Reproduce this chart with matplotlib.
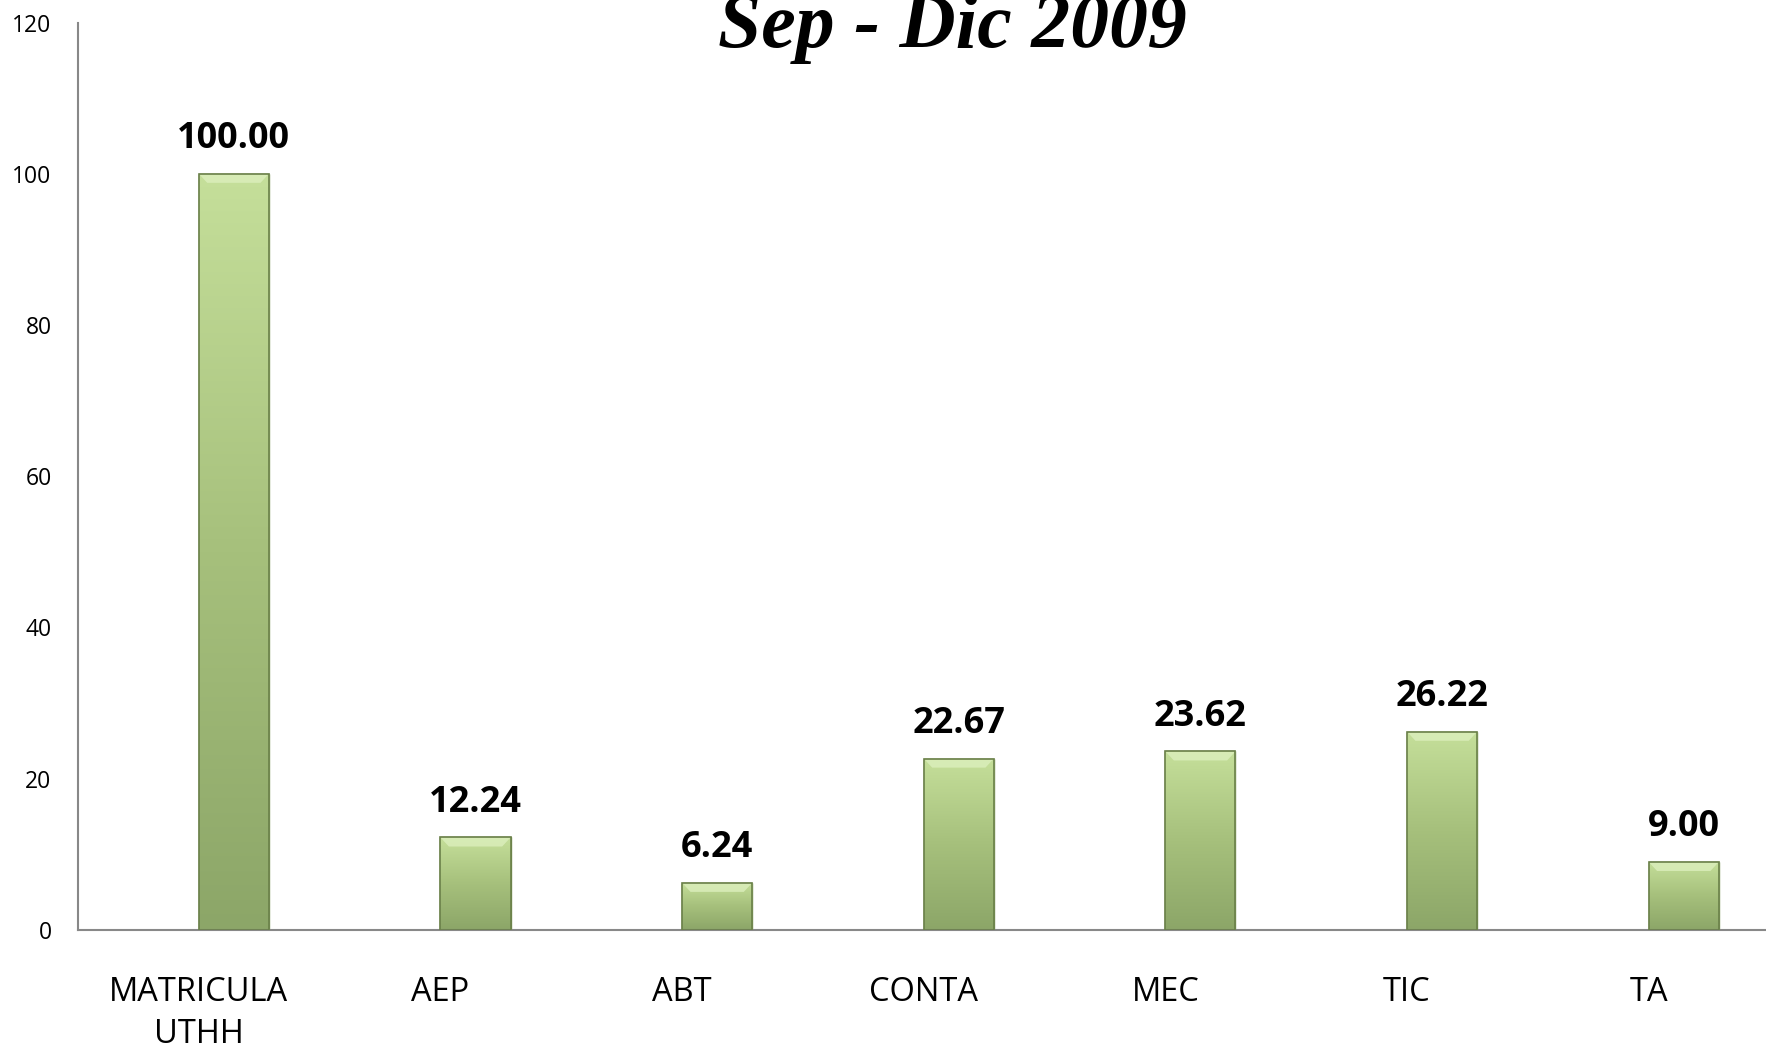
import matplotlib
matplotlib.use("Agg")
import matplotlib.pyplot as plt
import numpy as np
from matplotlib.colors import LinearSegmentedColormap

categories = ["MATRICULA\nUTHH", "AEP", "ABT", "CONTA", "MEC", "TIC", "TA"]
values = [100.00, 12.24, 6.24, 22.67, 23.62, 26.22, 9.00]
yticks = [0, 20, 40, 60, 80, 100, 120]
title = "Sep - Dic 2009"

W, H = 1766, 1051
fig = plt.figure(figsize=(W / 100, H / 100), dpi=100)
ax = fig.add_axes([78 / W, 1 - 930 / H, 1 - 78 / W + 0.002, (930 - 22.5) / H])

x = np.arange(len(categories))
bw = 0.29
bars = ax.bar(x, values, width=bw, align="edge", color="#a9c47f",
              edgecolor="#7d9458", linewidth=1.0, zorder=2)

cmap = LinearSegmentedColormap.from_list("g", ["#8ca668", "#a6c07c", "#c5df9a"])
grad = np.linspace(0, 1, 256).reshape(-1, 1)
for b in bars:
    x0, y0 = b.get_x(), b.get_y()
    w, h = b.get_width(), b.get_height()
    im = ax.imshow(grad, extent=[x0, x0 + w, y0, y0 + h], origin="lower",
                   cmap=cmap, aspect="auto", zorder=2.5, interpolation="bilinear")
    im.set_clip_path(b)
    # lighter bevel at top
    bev = min(1.2, h * 0.25)
    ax.fill([x0, x0 + w, x0 + w * 0.88, x0 + w * 0.12],
            [y0 + h, y0 + h, y0 + h - bev, y0 + h - bev],
            color="#dcefbd", alpha=0.8, zorder=2.6, linewidth=0)
    ax.bar(x0, h, width=w, align="edge", fill=False, edgecolor="#6a8049",
           linewidth=1.2, zorder=2.7)

for xi, v in zip(x, values):
    ax.annotate(f"{v:.2f}", (xi + bw / 2, v), xytext=(0, 12), textcoords="offset points",
                ha="center", va="bottom", fontsize=26, fontweight="bold",
                family="Open Sans", color="black")

ax.set_xlim(-0.5, len(categories) - 0.5)
ax.set_ylim(0, 120)
ax.set_yticks(yticks)
ax.set_yticklabels([str(t) for t in yticks], fontsize=16.5, family="Open Sans")
ax.set_xticks(x)
ax.set_xticklabels(categories, fontsize=23.5, family="Open Sans", linespacing=1.35)
ax.tick_params(axis="both", length=0)
ax.tick_params(axis="y", pad=19)
ax.tick_params(axis="x", pad=33)
for s in ["top", "right"]:
    ax.spines[s].set_visible(False)
for s in ["left", "bottom"]:
    ax.spines[s].set_color("#888888")
    ax.spines[s].set_linewidth(1.5)
ax.set_zorder(1)

fig.text(952 / W, 1 - 47 / H, title, ha="center", va="baseline",
         fontsize=56, fontstyle="italic", fontweight="bold", family="Liberation Serif")

fig.savefig("out.png", dpi=100)
